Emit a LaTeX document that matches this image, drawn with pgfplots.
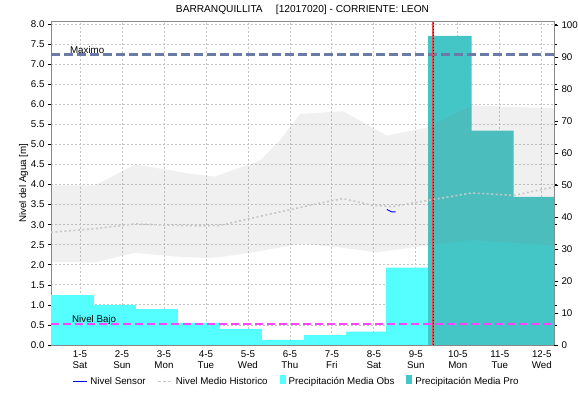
\documentclass[border=0pt]{standalone}
\usepackage{fontspec}
\setmainfont{Liberation Sans}
\usepackage{pgfplots}
\pgfplotsset{compat=1.18}
\definecolor{obs}{HTML}{55FFFF}
\definecolor{pro}{HTML}{45C6C6}
\definecolor{maxc}{HTML}{6A7BA6}
\definecolor{bajo}{HTML}{FF44FF}
\definecolor{gridc}{HTML}{C4C4C4}
\definecolor{framec}{HTML}{888888}
\definecolor{meanc}{HTML}{C8C8C8}
\definecolor{bandc}{HTML}{808080}
\definecolor{redl}{HTML}{F04848}
\definecolor{sensorc}{HTML}{0000FF}
\newcommand{\f}{\fontsize{9.8}{11.2}\selectfont}
\pgfplotsset{
  base/.style={
    scale only axis, width=503bp, height=323.3bp,
    at={(51bp,55bp)}, anchor=south west,
    xmin=-0.69, xmax=11.29,
    axis line style={framec},
    tick label style={font=\f},
    /pgf/number format/assume math mode=true,
    tick align=outside,
  },
  boxleg/.style={legend image code/.code={\fill[##1, draw=none] (0bp,-2.5bp) rectangle (6bp,6.5bp);}},
  lineleg/.style={legend image code/.code={\draw[##1] (0bp,0bp) -- (14bp,0bp);}},
}
\begin{document}
\begin{tikzpicture}
\useasboundingbox (0,0) rectangle (578bp,400bp);
% grid and left axis
\begin{axis}[base,
  ymin=0, ymax=8.06,
  ytick={0,0.5,1,1.5,2,2.5,3,3.5,4,4.5,5,5.5,6,6.5,7,7.5,8},
  yticklabel style={/pgf/number format/.cd, fixed, fixed zerofill, precision=1},
  xtick={0,1,2,3,4,5,6,7,8,9,10,11},
  xticklabels={{1-5\\Sat},{2-5\\Sun},{3-5\\Mon},{4-5\\Tue},{5-5\\Wed},{6-5\\Thu},{7-5\\Fri},{8-5\\Sat},{9-5\\Sun},{10-5\\Mon},{11-5\\Tue},{12-5\\Wed}},
  xticklabel style={align=center, font=\f, yshift=1bp},
  xtick style={draw=none},
  ytick style={black, line width=0.6bp},
  major tick length=3bp,
  grid=major,
  major grid style={gridc, dash pattern=on 2bp off 2bp, line width=0.8bp},
  ylabel={Nivel del Agua [m]},
  ylabel style={font=\f, yshift=-4bp},
]
\end{axis}
% precipitation bars, right axis
\begin{axis}[base,
  ymin=0, ymax=101,
  axis y line*=right, axis x line=none,
  ytick={0,10,20,30,40,50,60,70,80,90,100},
  ytick style={black, line width=0.6bp},
  major tick length=4bp,
]
\addplot[fill=obs, draw=none, const plot mark left] coordinates {
(-0.69,15.6) (0.33,12.5) (1.33,11.2) (2.33,6.9) (3.33,5.0) (4.33,1.6) (5.33,3.1) (6.33,4.2) (7.29,24.2) (8.29,24.2)} \closedcycle;
\addplot[fill=pro, draw=none, const plot mark left] coordinates {
(8.29,96.6) (9.33,67.0) (10.33,46.3) (11.29,46.3)} \closedcycle;
\end{axis}
% levels
\begin{axis}[base,
  ymin=0, ymax=8.06, hide axis,
  legend style={at={(0.488,-0.087)}, anchor=north, draw=none, font=\f, legend columns=4,
    /tikz/every even column/.append style={column sep=10bp},
    /tikz/every odd column/.append style={column sep=1bp}},
  legend cell align=left,
]
\addplot[fill=bandc, fill opacity=0.12, draw=none, forget plot] coordinates {
(-0.69,3.98) (0.36,3.98) (1.31,4.50) (2.02,4.38) (2.62,4.27) (3.21,4.20) (4.29,4.60) (4.76,5.10) (5.24,5.76) (6.26,5.83) (7.31,5.22) (8.26,5.42) (9.33,5.97) (11.29,5.90)
(11.29,2.48) (9.33,2.62) (8.26,2.48) (7.07,2.31) (6.12,2.44) (5.31,2.52) (5.24,2.52) (4.12,2.31) (3.33,2.19) (3.02,2.17) (2.45,2.19) (2.02,2.23) (1.31,2.30) (0.36,2.06) (-0.69,2.07)} -- cycle;
\addplot[meanc, line width=1.6bp, dash pattern=on 2bp off 2.5bp, forget plot] coordinates {
(-0.69,2.81) (0.36,2.90) (1.31,3.02) (2.02,2.99) (2.86,2.97) (3.33,2.98) (4.38,3.23) (5.64,3.52) (6.26,3.65) (6.98,3.48) (7.45,3.45) (8.26,3.60) (9.33,3.79) (10.33,3.73) (11.29,3.94)};
\addplot[color=sensorc, line width=0.9bp, forget plot] coordinates {
(7.31,3.38) (7.38,3.34) (7.43,3.32) (7.52,3.32)};
\addplot[maxc, line width=2.2bp, dash pattern=on 9bp off 4bp, forget plot] coordinates {(-0.69,7.24) (11.29,7.24)};
\addplot[bajo, line width=2.2bp, dash pattern=on 8bp off 4bp, forget plot] coordinates {(-0.69,0.52) (11.29,0.52)};
\addplot[redl, line width=1.3bp, forget plot] coordinates {(8.405,0) (8.405,8.06)};
\addplot[black!60!red, line width=0.6bp, dash pattern=on 1bp off 2bp, forget plot] coordinates {(8.405,0) (8.405,8.06)};
\node[anchor=base west, inner sep=0, font=\f] at (axis cs:-0.24,7.27) {Maximo};
\node[anchor=base west, inner sep=0, font=\f] at (axis cs:-0.19,0.55) {Nivel Bajo};
\addlegendimage{lineleg, color=sensorc, line width=1bp}
\addlegendentry{Nivel Sensor}
\addlegendimage{lineleg, color=meanc, line width=1.2bp, dash pattern=on 3bp off 2bp}
\addlegendentry{Nivel Medio Historico}
\addlegendimage{boxleg, fill=obs}
\addlegendentry{Precipitación Media Obs}
\addlegendimage{boxleg, fill=pro}
\addlegendentry{Precipitación Media Pro}
\end{axis}
\node[font=\fontsize{10.2}{12}\selectfont] at (302.5bp,390bp) {BARRANQUILLITA\hspace{1.3em}[12017020] - CORRIENTE: LEON};
\end{tikzpicture}
\end{document}
